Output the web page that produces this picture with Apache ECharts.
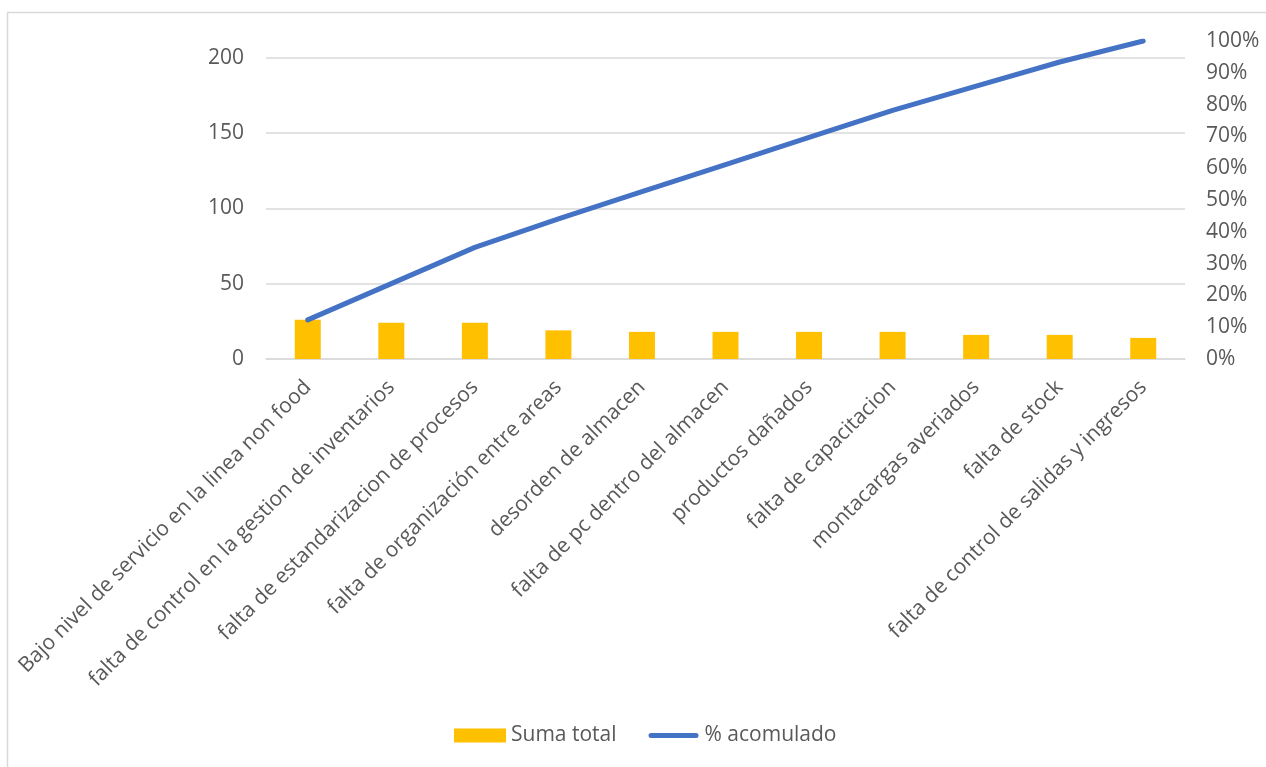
<!DOCTYPE html>
<html>
<head>
<meta charset="utf-8">
<script src="https://cdn.jsdelivr.net/npm/echarts@6/dist/echarts.min.js"></script>
<style>
  html, body { margin: 0; padding: 0; background: #fff; }
  #chart { width: 1266px; height: 767px; }
</style>
</head>
<body>
<div id="chart"></div>
<script>
const categories = [
  'Bajo nivel de servicio en la linea non food',
  'falta de control en la gestion de inventarios',
  'falta de estandarizacion de procesos',
  'falta de organización entre areas',
  'desorden de almacen',
  'falta de pc dentro del almacen',
  'productos dañados',
  'falta de capacitacion',
  'montacargas averiados',
  'falta de stock',
  'falta de control de salidas y ingresos',
];
const sumaTotal = [26, 24, 24, 19, 18, 18, 18, 18, 16, 16, 14];
const acumulado = [12.3, 23.7, 35.1, 44.1, 52.6, 61.1, 69.7, 78.2, 85.8, 93.4, 100];
const leftMax = 211;

const font = '"Open Sans", "Noto Sans", sans-serif';
const textColor = '#595959';
const gridColor = '#d9d9d9';
// rounded thick line for the legend of the line series
const lineIcon = 'path://M0,0 M52,14 M3.5,4.5 L48.5,4.5 A2.5,2.5 0 0 1 48.5,9.5 L3.5,9.5 A2.5,2.5 0 0 1 3.5,4.5 Z';

const chart = echarts.init(document.getElementById('chart'));
chart.setOption({
  animation: false,
  textStyle: { fontFamily: font },
  graphic: [
    {
      type: 'rect',
      shape: { x: 7.5, y: 12.5, width: 1300, height: 800 },
      style: { fill: 'none', stroke: gridColor, lineWidth: 1.5 },
      silent: true,
    },
  ],
  grid: { left: 266, right: 81, top: 41, bottom: 408 },
  legend: {
    bottom: 16,
    left: 449,
    itemWidth: 52,
    itemHeight: 14,
    itemGap: 31,
    textStyle: { fontSize: 21, color: textColor, fontFamily: font },
    data: [
      { name: 'Suma total', icon: 'rect' },
      { name: '% acomulado', icon: lineIcon },
    ],
  },
  xAxis: {
    type: 'category',
    data: categories,
    axisLine: { show: true, lineStyle: { color: gridColor, width: 1.5 } },
    axisTick: { show: false },
    axisLabel: {
      interval: 0,
      rotate: 45,
      margin: 25,
      fontSize: 21,
      color: textColor,
      fontFamily: font,
    },
  },
  yAxis: [
    {
      type: 'value',
      min: 0,
      max: leftMax,
      interval: 50,
      axisLine: { show: false },
      axisTick: { show: false },
      axisLabel: { fontSize: 21, color: textColor, margin: 22, showMaxLabel: false, fontFamily: font },
      splitLine: { showMaxLine: false, lineStyle: { color: gridColor, width: 1.5 } },
    },
    {
      type: 'value',
      min: 0,
      max: 100,
      interval: 10,
      position: 'right',
      axisLine: { show: false },
      axisTick: { show: false },
      axisLabel: { fontSize: 21, color: textColor, margin: 21, formatter: '{value}%', fontFamily: font },
      splitLine: { show: false },
    },
  ],
  series: [
    {
      name: 'Suma total',
      type: 'bar',
      data: sumaTotal,
      barWidth: 26,
      itemStyle: { color: '#FFC000' },
    },
    {
      name: '% acomulado',
      type: 'line',
      yAxisIndex: 1,
      data: acumulado,
      symbol: 'none',
      showSymbol: false,
      lineStyle: { color: '#4472C4', width: 5, cap: 'round', join: 'round' },
      itemStyle: { color: '#4472C4' },
    },
  ],
});
</script>
</body>
</html>
